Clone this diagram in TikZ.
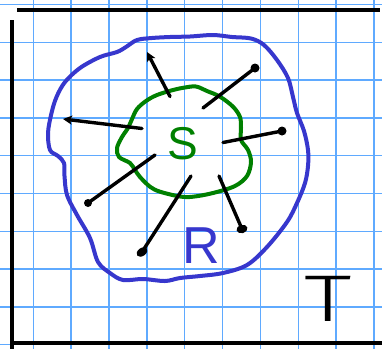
\documentclass[tikz,border=0pt]{standalone}
\usepackage{fontspec}
\setmainfont{Liberation Sans}
\newfontfamily\lightfont{Fira Sans Light}
\usetikzlibrary{arrows.meta}
\definecolor{gridblue}{RGB}{95,170,255}
\definecolor{rblue}{RGB}{55,55,205}
\definecolor{sgreen}{RGB}{0,128,0}
\tikzset{
  gridline/.style={gridblue, line width=1.4pt},
  border/.style={black, line width=4.5pt},
  ray/.style={black, line width=3.4pt, line cap=round},
  arrowray/.style={ray, -{Stealth[length=9pt,width=9pt,inset=2pt]}},
  dotend/.style={fill=black, draw=none},
  rcurve/.style={rblue, line width=4pt, line join=round},
  scurve/.style={sgreen, line width=4pt, line join=round},
}
\begin{document}
\begin{tikzpicture}[x=1pt,y=-1pt]
\useasboundingbox (0,0) rectangle (382,349);
\fill[white] (0,0) rectangle (382,349);
% grid
\foreach \i in {0,...,9} {
  \draw[gridline] ({33.3+37.85*\i},0) -- ({33.3+37.85*\i},349);
  \draw[gridline] (0,{4.5+37.8*\i}) -- (382,{4.5+37.8*\i});
}
% borders
\draw[border] (17,10) -- (380,10);
\draw[border] (12,20) -- (12,349);
\draw[border] (12,343) -- (382,343);
% R curve
\draw[rcurve] plot[smooth cycle, tension=0.55] coordinates {
 (190,36.5) (213,35) (232,37) (251,38.5) (264,45) (277,60) (288,78) (293,97)
 (297,113) (304,131) (308,150) (308,166) (305,183) (297,203) (287,222) (267,247)
 (247,265) (223,273) (200,276) (180,278) (165,281) (143,279) (123,280) (110,273)
 (98,262) (90,238) (77,215) (67,195) (64.5,176) (64,163) (58,156) (50,150)
 (48,133) (51.5,113) (56.5,97) (65,82) (80,68) (100,57) (117,52) (126,47)
 (137,40) (152,38) (170,37)
};
% S curve
\draw[scurve] plot[smooth cycle, tension=0.55] coordinates {
 (196,86.5) (207,91) (220,96.7) (233,106.7) (240,117) (241,128) (241,140)
 (248,150) (251,162) (247,176) (235,186) (213,193) (193,196.7) (180,196.5)
 (160,191.7) (150,186.7) (140,177) (135,170) (130,163) (119,157) (117,148)
 (122,137) (128,128) (132,119) (137,109) (146,101) (157,95) (173,90) (185,87.5)
};
% ray end points
\coordinate (a1s) at (170,96.5);  \coordinate (a1e) at (147,52);
\coordinate (a2s) at (142,128.5); \coordinate (a2e) at (63,119);
\coordinate (l3s) at (203,108);   \coordinate (l3e) at (255,68);
\coordinate (l4s) at (223,142.5); \coordinate (l4e) at (282,131);
\coordinate (l5s) at (155,155);   \coordinate (l5e) at (88,203);
\coordinate (l6s) at (191,176);   \coordinate (l6e) at (142,252);
\coordinate (l7s) at (219,176);   \coordinate (l7e) at (242,229);
\draw[arrowray] (a1s) -- (a1e);
\draw[arrowray] (a2s) -- (a2e);
\draw[ray] (l3s) -- (l3e);
\draw[ray] (l4s) -- (l4e);
\draw[ray] (l5s) -- (l5e);
\draw[ray] (l6s) -- (l6e);
\draw[ray] (l7s) -- (l7e);
\fill[dotend] (l3e) circle (4.5);
\fill[dotend] (l4e) circle (4.5);
\fill[dotend] (l5e) circle (4);
\fill[dotend,rotate around={35:(l6e)}] (l6e) ellipse (6 and 4);
\fill[dotend,rotate around={15:(l7e)}] (l7e) ellipse (5.5 and 4.2);
% labels
\node[text=sgreen, font=\fontsize{46}{46}\selectfont, inner sep=0pt] (S) at (182.5,144) {S};
\node[text=rblue, font=\fontsize{52}{52}\selectfont, inner sep=0pt] (R) at (201,245.5) {R};
\node[text=black, font=\lightfont\fontsize{66}{66}\selectfont, inner sep=0pt, xscale=1.45] (T) at (328,298.5) {T};
\end{tikzpicture}
\end{document}
